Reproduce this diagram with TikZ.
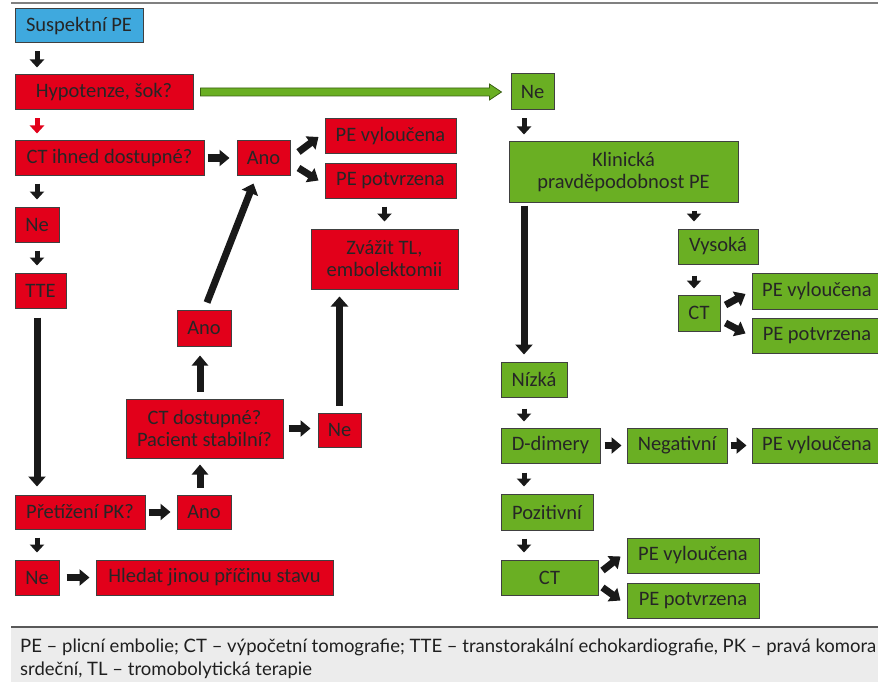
\documentclass[tikz,border=0pt]{standalone}
\usepackage{fontspec}
\setmainfont{Carlito}
\newfontfamily\capfont{Lato}
\usetikzlibrary{arrows.meta,calc}
\definecolor{rd}{HTML}{E2001A}
\definecolor{gr}{HTML}{6AAF23}
\definecolor{bl}{HTML}{3FA9DE}
\definecolor{bd}{HTML}{404040}
\definecolor{capbg}{HTML}{ECECEC}
\tikzset{
 box/.style={draw=bd, line width=1pt, inner sep=0pt, align=center, font=\fontsize{20.5}{22}\selectfont, text=black!85},
 rbox/.style={box, fill=rd},
 gbox/.style={box, fill=gr},
 bbox/.style={box, fill=bl},
 sarr/.style={line width=5pt, -{Triangle[width=14pt,length=8pt]}, draw=black!90},
 harr/.style={line width=7pt, -{Triangle[width=16pt,length=10pt]}, draw=black!90},
 larr/.style={line width=7pt, -{Triangle[width=17pt,length=10pt]}, draw=black!90},
 gapv/.style={shorten <=8pt, shorten >=7pt},
 caption/.style={anchor=west, inner sep=0pt, font=\capfont\fontsize{18.5}{20}\selectfont, text=black!88},
}
\newcommand\mybox[7]{\node[#6, minimum width={(#4-#2)*1pt}, minimum height={(#5-#3)*1pt}] (#1) at ({(#2+#4)/2},{(#3+#5)/2}) {#7};}
\begin{document}
\begin{tikzpicture}[x=1pt,y=-1pt]
\useasboundingbox (0,0) rectangle (878,682);
\fill[white] (0,0) rectangle (878,682);
% top and bottom rules, caption background
\fill[capbg] (11,627) rectangle (878,682);
\draw[black!50, line width=1.2pt] (11,3) -- (878,3);
\draw[black!65, line width=1.5pt] (11,627) -- (878,627);
\coordinate (xl) at (37,0);
\coordinate (xm) at (200,0);
\coordinate (xr) at (524,0);
\coordinate (xv) at (694,0);
% left (red) branch
\mybox{susp}{15}{9}{143}{43}{bbox}{Suspektní PE}
\mybox{hyp}{15}{75}{193}{110}{rbox}{Hypotenze, šok?}
\mybox{cti}{15}{141}{204}{175}{rbox}{CT ihned dostupné?}
\mybox{ano1}{237}{141}{290}{175}{rbox}{Ano}
\mybox{pev1}{325}{119}{456}{154}{rbox}{PE vyloučena}
\mybox{pep1}{325}{163}{456}{198}{rbox}{PE potvrzena}
\mybox{zv}{311}{229}{458}{289}{rbox}{Zvážit TL,\\embolektomii}
\mybox{ne1}{15}{207}{59}{242}{rbox}{Ne}
\mybox{tte}{15}{273}{66}{308}{rbox}{TTE}
\mybox{ano2}{177}{310}{231}{346}{rbox}{Ano}
\mybox{ctd}{126}{399}{283}{458}{rbox}{CT dostupné?\\Pacient stabilní?}
\mybox{ne2}{318}{413}{361}{447}{rbox}{Ne}
\mybox{pret}{15}{495}{145}{529}{rbox}{Přetížení PK?}
\mybox{ano3}{177}{495}{231}{529}{rbox}{Ano}
\mybox{ne3}{15}{560}{59}{595}{rbox}{Ne}
\mybox{hled}{96}{560}{333}{595}{rbox}{Hledat jinou příčinu stavu}
% right (green) branch
\mybox{neg0}{511}{74}{554}{110}{gbox}{Ne}
\mybox{klin}{509}{142}{738}{202}{gbox}{Klinická\\pravděpodobnost PE}
\mybox{vys}{678}{229}{758}{264}{gbox}{Vysoká}
\mybox{ct1}{678}{295}{720}{331}{gbox}{CT}
\mybox{pev2}{752}{273}{882}{309}{gbox}{PE vyloučena}
\mybox{pep2}{752}{318}{882}{353}{gbox}{PE potvrzena}
\mybox{niz}{501}{362}{567}{397}{gbox}{Nízká}
\mybox{ddim}{501}{428}{600}{463}{gbox}{D-dimery}
\mybox{negt}{627}{428}{727}{463}{gbox}{Negativní}
\mybox{pev3}{752}{428}{882}{463}{gbox}{PE vyloučena}
\mybox{poz}{501}{494}{593}{530}{gbox}{Pozitivní}
\mybox{ct2}{501}{560}{598}{595}{gbox}{CT}
\mybox{pev4}{627}{538}{759}{573}{gbox}{PE vyloučena}
\mybox{pep4}{627}{583}{759}{618}{gbox}{PE potvrzena}
% connectors, left
\draw[sarr,gapv] (susp.south -| xl) -- (hyp.north -| xl);
\draw[sarr,gapv,draw=rd] (hyp.south -| xl) -- (cti.north -| xl);
\draw[sarr,gapv] (cti.south -| xl) -- (ne1.north -| xl);
\draw[sarr,gapv] (ne1.south -| xl) -- (tte.north -| xl);
\draw[larr,shorten <=9pt,shorten >=8pt] (tte.south -| xl) -- (pret.north -| xl);
\draw[sarr,gapv] (pret.south -| xl) -- (ne3.north -| xl);
\draw[harr,shorten <=3pt,shorten >=7pt] (cti.east) -- (cti.east -| ano1.west);
\draw[harr] ($(ano1.east)+(8,-6)$) -- ($(pev1.west)+(-6,0.5)$);
\draw[harr] ($(ano1.east)+(8,10)$) -- ($(pep1.west)+(-6,0)$);
\draw[sarr,gapv] (pep1.south -| zv.north) -- (zv.north);
\draw[harr,shorten <=7pt,shorten >=6pt] (ne3.east) -- (ne3.east -| hled.west);
\draw[harr,shorten <=3pt,shorten >=6pt] (pret.east) -- (pret.east -| ano3.west);
\draw[harr,shorten <=7pt,shorten >=6pt] (ano3.north -| xm) -- (ctd.south -| xm);
\draw[harr,shorten <=7pt,shorten >=9pt] (ctd.north -| xm) -- (ano2.south -| xm);
\draw[larr] ($(ano2.north)+(3,-7)$) -- ($(ano1.south)+(-10,8)$);
\draw[harr,shorten <=5pt,shorten >=7pt] (ctd.east) -- (ctd.east -| ne2.west);
\draw[larr,shorten <=7pt,shorten >=7pt] (ne2.north) -- (ne2.north |- zv.south);
% green arrow
\coordinate (ga) at (hyp.east |- neg0.west);
\draw[draw=gr!55!black, fill=gr, line width=0.8pt]
  ($(ga)+(7,-4)$) -- ($(neg0.west)+(-21,-4)$) -- ($(neg0.west)+(-21,-8)$) -- ($(neg0.west)+(-9,0)$)
  -- ($(neg0.west)+(-21,8)$) -- ($(neg0.west)+(-21,4)$) -- ($(ga)+(7,4)$) -- cycle;
% connectors, right
\draw[sarr,gapv] (neg0.south -| xr) -- (klin.north -| xr);
\draw[larr,shorten <=3pt,shorten >=7pt] (klin.south -| xr) -- (niz.north -| xr);
\draw[sarr,gapv] (klin.south -| xv) -- (vys.north -| xv);
\draw[sarr,shorten <=11pt,shorten >=6pt] (vys.south -| xv) -- (ct1.north -| xv);
\draw[harr] ($(ct1.east)+(5,-8)$) -- ($(pev2.west)+(-6,3)$);
\draw[harr] ($(ct1.east)+(5,10)$) -- ($(pep2.west)+(-6,-2)$);
\draw[sarr,shorten <=11pt,shorten >=6pt] (niz.south -| xr) -- (ddim.north -| xr);
\draw[harr,shorten <=4pt,shorten >=5pt] (ddim.east) -- (negt.west);
\draw[harr,shorten <=3pt,shorten >=5pt] (negt.east) -- (pev3.west);
\draw[sarr,shorten <=9pt,shorten >=7pt] (ddim.south -| xr) -- (poz.north -| xr);
\draw[sarr,gapv] (poz.south -| xr) -- (ct2.north -| xr);
\draw[harr] ($(ct2.east)+(4,-7)$) -- ($(pev4.west)+(-6,1)$);
\draw[harr] ($(ct2.east)+(4,10)$) -- ($(pep4.west)+(-6,0)$);
% caption
\node[caption] (cap1) at (20,647) {PE – plicní embolie; CT – výpočetní tomografie; TTE – transtorakální echokardiografie, PK – pravá komora};
\node[caption] (cap2) at (20,670) {srdeční, TL – tromobolytická terapie};
\end{tikzpicture}
\end{document}
